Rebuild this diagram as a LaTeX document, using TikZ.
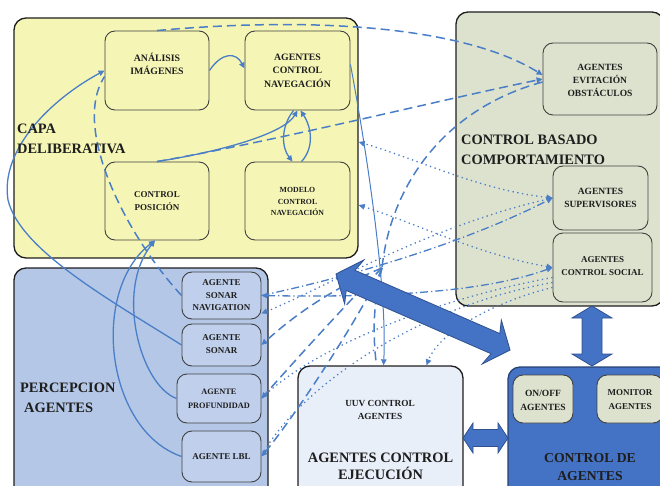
\documentclass[tikz,border=0pt]{standalone}
\usepackage{fontspec}
\setmainfont{Liberation Serif}
\usetikzlibrary{fit,arrows.meta}
\definecolor{capaY}{RGB}{245,246,182}
\definecolor{cbcG}{RGB}{221,226,206}
\definecolor{percB}{RGB}{180,199,231}
\definecolor{percI}{RGB}{192,208,236}
\definecolor{aceF}{RGB}{233,239,249}
\definecolor{cdaB}{RGB}{68,114,196}
\definecolor{lc}{RGB}{74,126,199}
\definecolor{arrE}{RGB}{47,82,143}
\definecolor{ink}{RGB}{30,30,30}
\begin{document}
\begin{tikzpicture}[x=1pt,y=-1pt,
  cont/.style={draw=ink, line width=1.3pt, rounded corners=12pt, inner sep=0pt},
  ibox/.style={draw=ink!85, line width=0.9pt, rounded corners=10pt, inner sep=0pt},
  lab/.style={font=\fontsize{9.5}{13}\selectfont\bfseries, align=center, text=ink, inner sep=0pt},
  biglab/.style={font=\fontsize{14.4}{20}\selectfont\bfseries, align=left, text=ink, inner sep=0pt},
  ln/.style={draw=lc, line width=1.3pt},
  tp/.style={-{Triangle[length=6pt,width=5.5pt]}},
  tpb/.style={{Triangle[length=6pt,width=5.5pt]}-{Triangle[length=6pt,width=5.5pt]}},
  dsh/.style={ln, line width=1.5pt, dash pattern=on 9pt off 5pt},
  ddt/.style={ln, dash pattern=on 8pt off 3pt on 1.3pt off 3pt},
  dtt/.style={ln, dash pattern=on 1.3pt off 3.5pt},
  bigarr/.style={fill=cdaB, draw=arrE, line width=0.8pt, line join=miter}
]
\path[use as bounding box] (0,0) rectangle (660,486);
\clip (0,0) rectangle (660,486);

% containers
\node[cont, fill=capaY, fit={(14,18) (358,258)}] (capa) {};
\node[cont, fill=cbcG, fit={(456,12) (664,306)}] (cbc) {};
\node[cont, fill=percB, fit={(14,268) (268,500)}] (perc) {};
\node[cont, fill=aceF, fit={(298,366) (463,500)}] (ace) {};
\node[cont, fill=cdaB, draw=arrE!80!black, fit={(508,367) (672,500)}] (cda) {};

% inner boxes
\node[ibox, fill=capaY, fit={(105,31) (209,110)}] (ai) {};
\node[ibox, fill=capaY, fit={(245,31) (350,110)}] (acn) {};
\node[ibox, fill=capaY, fit={(105,162) (209,240)}] (cp) {};
\node[ibox, fill=capaY, fit={(245,162) (350,240)}] (mcn) {};
\node[ibox, fill=cbcG, fit={(543,43) (657,115)}] (aeo) {};
\node[ibox, fill=cbcG, fit={(553,166) (648,230)}] (sup) {};
\node[ibox, fill=cbcG, fit={(553,233) (652,302)}] (acs) {};
\node[ibox, fill=percI, fit={(182,272) (261,319)}] (sonnav) {};
\node[ibox, fill=percI, fit={(182,324) (261,366)}] (sonar) {};
\node[ibox, fill=percI, fit={(177,374) (261,423)}] (prof) {};
\node[ibox, fill=percI, fit={(182,431) (261,482)}] (lbl) {};
\node[ibox, fill=cbcG, fit={(513,375) (573,423)}] (onoff) {};
\node[ibox, fill=cbcG, fit={(597,375) (663,423)}] (mon) {};

\coordinate (split) at (382,268);

% solid connectors
\draw[ln, tp] (ai.east) .. controls (222,52) and (236,52) .. ([yshift=2pt]acn.west);
\draw[ln, tp] (cp.north) .. controls (230,150) and (285,132) .. (acn.south);
\draw[ln, tp] ([xshift=-4pt]acn.south) .. controls (280,128) and (282,148) .. ([xshift=-5pt]mcn.north);
\draw[ln, tp] ([xshift=4pt]mcn.north) .. controls (314,148) and (312,128) .. ([xshift=3pt]acn.south);
\draw[ln, tp] (sonar.west) .. controls (110,300) and (20,250) .. (8,200) .. controls (0,150) and (50,100) .. (ai.west);
\draw[ln, tp] (prof.west) .. controls (140,385) and (115,290) .. ([xshift=-2pt]cp.south);
\draw[ln, tp] (lbl.west) .. controls (105,430) and (90,290) .. ([xshift=-2pt]cp.south);
\draw[ln, line width=1pt, tp] ([yshift=6pt]acn.east) .. controls (372,180) and (387,300) .. ([xshift=3pt]ace.north);

% dashed connectors
\draw[dsh, tp] (ai.north) .. controls (330,15) and (470,30) .. ([yshift=4pt]aeo.west);
\draw[dsh, tp] (cp.north) .. controls (280,140) and (440,100) .. (aeo.west);
\draw[dsh] (sonnav.west) .. controls (130,240) and (70,130) .. ([yshift=-6pt]ai.west);
\draw[dsh] ([yshift=-3pt]aeo.west) .. controls (440,110) and (390,190) .. (split);
\draw[dsh] (split) .. controls (374,300) and (372,330) .. ([xshift=-4pt]ace.north);
\draw[dsh, tp] (split) .. controls (350,300) and (300,355) .. (prof.east);
\draw[dsh, tp] (split) .. controls (370,300) and (300,410) .. (lbl.east);
\draw[dsh, tp] (split) .. controls (340,285) and (300,310) .. (sonar.east);

% dash-dot connectors
\draw[ddt, tp] (sonnav.east) .. controls (380,270) and (480,235) .. (sup.west);
\draw[ddt, tpb] (sonnav.east) .. controls (400,298) and (490,290) .. (acs.west);

% dotted connectors
\draw[dtt, tpb] (sup.west) .. controls (480,190) and (420,160) .. ([yshift=-4pt]capa.east);
\draw[dtt, tpb] (acs.west) .. controls (480,255) and (420,225) .. ([yshift=-67pt]capa.east);
\draw[dtt, tp] ([yshift=-20pt]acs.west) .. controls (500,300) and (440,330) .. ([xshift=46pt]ace.north);
\draw[dtt, tp] (sup.west) .. controls (430,225) and (320,290) .. ([yshift=6pt]sonnav.south east);
\draw[dtt] ([yshift=-10pt]acs.west) .. controls (430,300) and (310,350) .. (prof.east);
\draw[dtt] ([yshift=-15pt]acs.west) .. controls (400,310) and (290,400) .. (lbl.east);

% block arrows
\begin{scope}[shift={(423,312)}, rotate=-23.6]
\draw[bigarr] (-95,0) -- (-75,-24) -- (-79,-11) -- (79,-11) -- (75,-24) -- (95,0) -- (75,24) -- (79,11) -- (-79,11) -- (-75,24) -- cycle;
\end{scope}
\begin{scope}[shift={(592,336)}, rotate=90]
\draw[bigarr] (-30,0) -- (-18,-20) -- (-18,-10) -- (18,-10) -- (18,-20) -- (30,0) -- (18,20) -- (18,10) -- (-18,10) -- (-18,20) -- cycle;
\end{scope}
\begin{scope}[shift={(485.5,438)}]
\draw[bigarr] (-22.5,0) -- (-12.5,-15) -- (-12.5,-8.5) -- (12.5,-8.5) -- (12.5,-15) -- (22.5,0) -- (12.5,15) -- (12.5,8.5) -- (-12.5,8.5) -- (-12.5,15) -- cycle;
\end{scope}

% labels
\node[lab, font=\fontsize{9.8}{13.5}\selectfont\bfseries] (ait) at (157,64) {ANÁLISIS\\IMÁGENES};
\node[lab, font=\fontsize{9.8}{13.5}\selectfont\bfseries] (acnt) at (297.5,70.5) {AGENTES\\CONTROL\\NAVEGACIÓN};
\node[lab, font=\fontsize{9}{13}\selectfont\bfseries] (cpt) at (157,201.5) {CONTROL\\POSICIÓN};
\node[lab, font=\fontsize{7.8}{11.5}\selectfont\bfseries] (mcnt) at (297.5,201.5) {MODELO\\CONTROL\\NAVEGACIÓN};
\node[lab] (aeot) at (600,80) {AGENTES\\EVITACIÓN\\OBSTÁCULOS};
\node[lab] (supt) at (600.5,197.5) {AGENTES\\SUPERVISORES};
\node[lab, font=\fontsize{9}{13.5}\selectfont\bfseries] (acst) at (602.5,266) {AGENTES\\CONTROL SOCIAL};
\node[lab, font=\fontsize{9}{12.5}\selectfont\bfseries] (sonnavt) at (221.5,295.5) {AGENTE\\SONAR\\NAVIGATION};
\node[lab, font=\fontsize{9}{13}\selectfont\bfseries] (sonart) at (221.5,344.5) {AGENTE\\SONAR};
\node[lab, font=\fontsize{8.3}{13.5}\selectfont\bfseries] (proft) at (219,399) {AGENTE\\PROFUNDIDAD};
\node[lab, font=\fontsize{9}{13}\selectfont\bfseries] (lblt) at (221.5,457) {AGENTE LBL};
\node[lab, font=\fontsize{9.3}{13}\selectfont\bfseries] (uuvt) at (380,409.5) {UUV CONTROL\\AGENTES};
\node[lab, font=\fontsize{9.5}{14}\selectfont\bfseries] (onofft) at (543,400) {ON/OFF\\AGENTES};
\node[lab, font=\fontsize{9}{14}\selectfont\bfseries] (mont) at (630,400) {MONITOR\\AGENTES};

\node[biglab, anchor=west] (capat) at (17,139) {CAPA\\DELIBERATIVA};
\node[biglab, anchor=west] (cbct) at (461,150) {CONTROL BASADO\\COMPORTAMIENTO};
\node[biglab, anchor=west] (perct) at (20,398) {PERCEPCION\\\hspace*{4pt}AGENTES};
\node[biglab, align=center, font=\fontsize{14.4}{17}\selectfont\bfseries] (acet) at (380.5,466.5) {AGENTES CONTROL\\EJECUCIÓN};
\node[biglab, align=center, font=\fontsize{13.7}{18}\selectfont\bfseries] (cdat) at (590,467) {CONTROL DE\\AGENTES};
\end{tikzpicture}
\end{document}
